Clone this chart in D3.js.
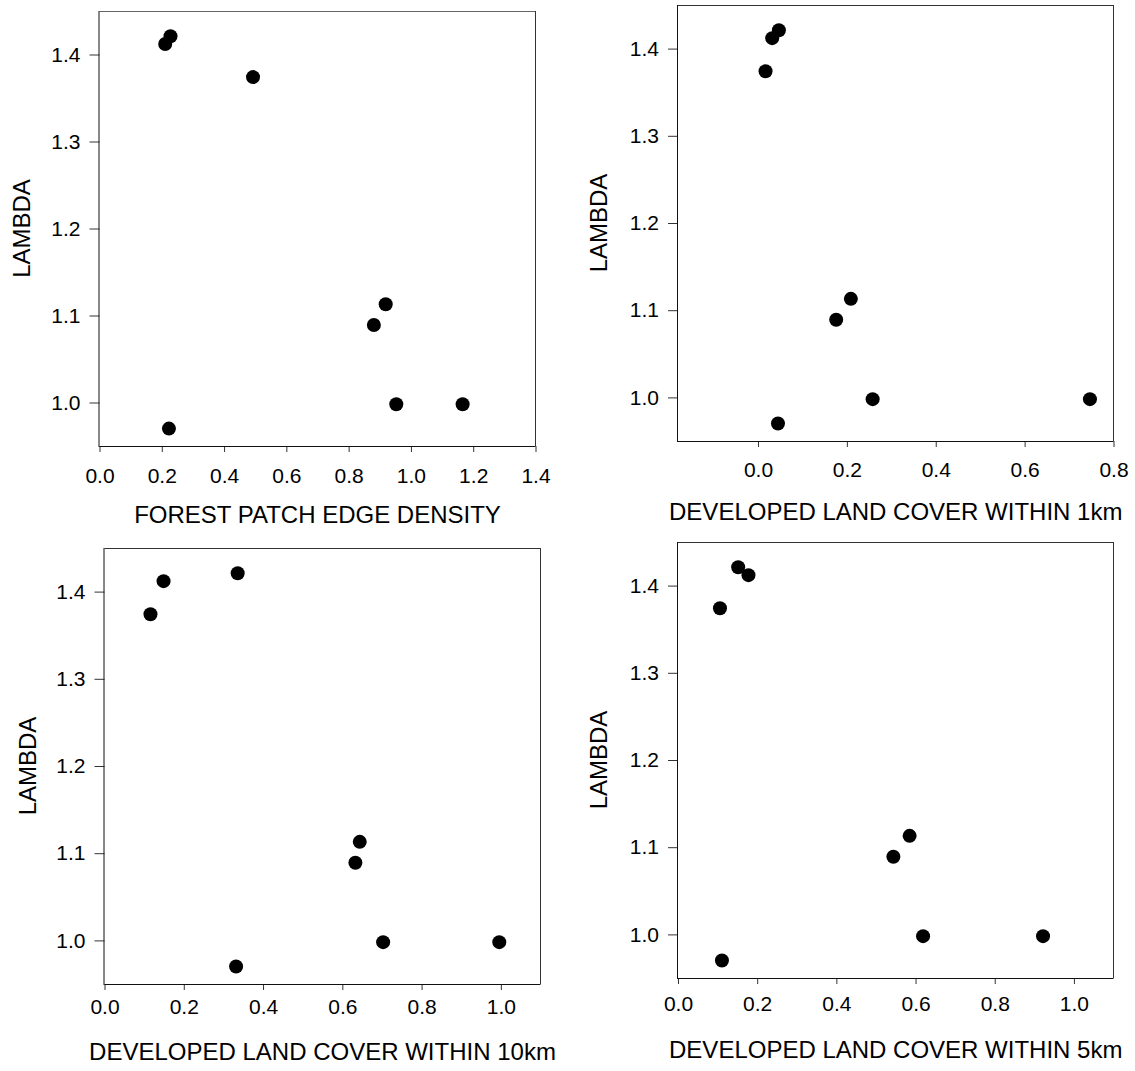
<!DOCTYPE html>
<html>
<head>
<meta charset="utf-8">
<script src="https://cdn.jsdelivr.net/npm/d3@7"></script>
<style>
  html, body { margin: 0; padding: 0; background: #fff; }
  svg { display: block; }
  text { font-family: "Liberation Sans", Arial, sans-serif; fill: #000; }
</style>
</head>
<body>
<svg id="chart" width="1135" height="1071"></svg>
<script>
// Population growth rate (lambda) at eight sites, plotted against landscape measures
const lambda        = [1.421, 1.412, 1.374, 1.113, 1.089, 0.998, 0.998, 0.970];
const edgeDensity   = [0.228, 0.211, 0.493, 0.919, 0.881, 0.953, 1.166, 0.223];
const developed1km  = [0.047, 0.032, 0.017, 0.209, 0.176, 0.258, 0.747, 0.045];
const developed10km = [0.336, 0.149, 0.116, 0.644, 0.633, 0.703, 0.996, 0.332];
const developed5km  = [0.152, 0.178, 0.106, 0.585, 0.544, 0.619, 0.922, 0.111];

const yTicks       = [1.0, 1.1, 1.2, 1.3, 1.4];
const xTicksEdge   = [0.0, 0.2, 0.4, 0.6, 0.8, 1.0, 1.2, 1.4];
const xTicks1km    = [0.0, 0.2, 0.4, 0.6, 0.8];
const xTicks10km   = [0.0, 0.2, 0.4, 0.6, 0.8, 1.0];
const xTicks5km    = [0.0, 0.2, 0.4, 0.6, 0.8, 1.0];

const yDomain = [0.95, 1.45];

const panels = [
  { xs: edgeDensity, xDomain: [0, 1.4], xTicks: xTicksEdge, title: "FOREST PATCH EDGE DENSITY",
    left: 99.5, right: 535.5, top: 11, bottom: 446, xPad: 16.5, titleY: 523, yTitleX: 21, topStroke: "#666" },
  { xs: developed1km, xDomain: [-0.18, 0.8], xTicks: xTicks1km, title: "DEVELOPED LAND COVER WITHIN 1km",
    left: 678, right: 1113.5, top: 5, bottom: 441, xPad: 15.5, titleY: 520, yTitleX: 598, topStroke: "#333" },
  { xs: developed10km, xDomain: [0, 1.1], xTicks: xTicks10km, title: "DEVELOPED LAND COVER WITHIN 10km",
    left: 104.5, right: 540.5, top: 548, bottom: 984, xPad: 9.5, titleY: 1060, yTitleX: 27, topStroke: "#333" },
  { xs: developed5km, xDomain: [0, 1.1], xTicks: xTicks5km, title: "DEVELOPED LAND COVER WITHIN 5km",
    left: 678, right: 1113.5, top: 542, bottom: 978, xPad: 12, titleY: 1058, yTitleX: 598, topStroke: "#333" }
];

const svg = d3.select("#chart");
const fmt = d3.format(".1f");
const tickFont = 21;
const titleFont = 24;

panels.forEach(p => {
  const x = d3.scaleLinear().domain(p.xDomain).range([p.left, p.right]);
  const y = d3.scaleLinear().domain(yDomain).range([p.bottom, p.top]);
  const g = svg.append("g");

  // frame: top and right edges
  g.append("line").attr("x1", p.left).attr("x2", p.right).attr("y1", p.top + 0.5).attr("y2", p.top + 0.5)
    .attr("stroke", p.topStroke).attr("stroke-width", 1);
  g.append("line").attr("x1", p.right).attr("x2", p.right).attr("y1", p.top).attr("y2", p.bottom)
    .attr("stroke", "#333").attr("stroke-width", 1);

  // bottom axis
  const xAxis = d3.axisBottom(x).tickValues(p.xTicks).tickFormat(fmt)
    .tickSize(6).tickSizeOuter(0).tickPadding(p.xPad);
  const gx = g.append("g").attr("transform", `translate(0,${p.bottom})`).call(xAxis);
  gx.select(".domain").remove();
  gx.append("line").attr("x1", p.left).attr("x2", p.right).attr("y1", 0.5).attr("y2", 0.5)
    .attr("stroke", "#111");
  gx.selectAll(".tick line").attr("stroke", "#333");
  gx.selectAll(".tick text").attr("font-size", tickFont).attr("fill", "#000")
    .style("font-family", '"Liberation Sans", Arial, sans-serif');

  // left axis
  const yAxis = d3.axisLeft(y).tickValues(yTicks).tickFormat(fmt)
    .tickSize(10).tickSizeOuter(0).tickPadding(9);
  const gy = g.append("g").attr("transform", `translate(${p.left},0)`).call(yAxis);
  gy.select(".domain").remove();
  gy.append("line").attr("x1", -0.5).attr("x2", -0.5).attr("y1", p.top).attr("y2", p.bottom + 1)
    .attr("stroke", "#111");
  gy.selectAll(".tick line").attr("stroke", "#333");
  gy.selectAll(".tick text").attr("font-size", tickFont).attr("fill", "#000")
    .style("font-family", '"Liberation Sans", Arial, sans-serif');

  // points
  g.append("g").selectAll("circle")
    .data(p.xs.map((v, i) => ({ x: v, y: lambda[i] })))
    .join("circle")
    .attr("cx", d => x(d.x))
    .attr("cy", d => y(d.y))
    .attr("r", 7)
    .attr("fill", "#000");

  // axis titles
  g.append("text")
    .attr("x", (p.left + p.right) / 2)
    .attr("y", p.titleY)
    .attr("text-anchor", "middle")
    .attr("font-size", titleFont)
    .text(p.title);

  g.append("text")
    .attr("transform", `translate(${p.yTitleX},${(p.top + p.bottom) / 2}) rotate(-90)`)
    .attr("text-anchor", "middle")
    .attr("dominant-baseline", "central")
    .attr("font-size", titleFont)
    .text("LAMBDA");
});
</script>
</body>
</html>
